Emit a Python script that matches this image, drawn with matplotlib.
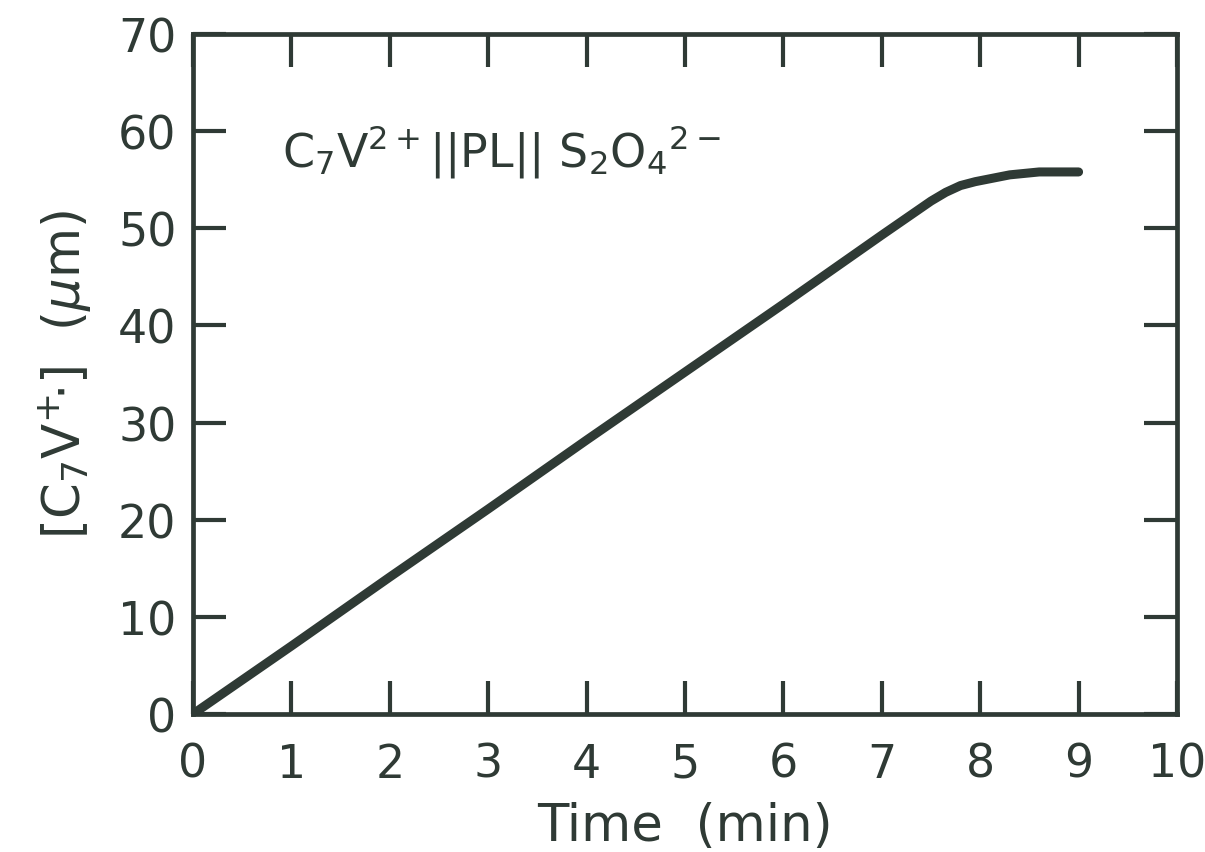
import matplotlib.pyplot as plt

# C7V+ concentration vs time
time_min = [0, 1, 2, 3, 4, 5, 6, 7, 7.5, 7.65, 7.8, 7.95, 8.1, 8.3, 8.6, 9.0]
conc_um = [0, 7.0, 14.1, 21.1, 28.2, 35.2, 42.2, 49.3, 52.8, 53.7, 54.4, 54.8, 55.1, 55.5, 55.8, 55.8]

x_ticks = list(range(0, 11))
y_ticks = list(range(0, 71, 10))

ink = '#2f3a35'
plt.rcParams['font.family'] = ['DejaVu Sans']
plt.rcParams['mathtext.fontset'] = 'dejavusans'

fig = plt.figure(figsize=(12.05, 8.53), dpi=100)
ax = fig.add_axes([193 / 1205, 1 - 715 / 853, (1177 - 193) / 1205, (715 - 35) / 853])

ax.plot(time_min, conc_um, color=ink, lw=6.5, solid_capstyle='round', solid_joinstyle='round')

ax.set_xlim(0, 10)
ax.set_ylim(0, 70)
ax.set_xticks(x_ticks)
ax.set_yticks(y_ticks)

for s in ax.spines.values():
    s.set_linewidth(3.4)
    s.set_color(ink)

ax.tick_params(direction='in', length=24, width=3, color=ink, labelcolor=ink,
               labelsize=33, top=True, right=True)
ax.tick_params(axis='x', pad=20)
ax.tick_params(axis='y', pad=12)

ax.set_xlabel('Time  (min)', fontsize=37, color=ink, labelpad=10)
ax.set_ylabel(r'[C$_7$V$^{+}\!$$\cdot$]  ($\mu$m)', fontsize=37, color=ink, labelpad=18)

ax.text(0.9, 56.5, r'C$_7$V$^{2+}$||PL|| S$_2$O$_4$$^{2-}$', fontsize=33, color=ink)

plt.savefig('out.png', dpi=100)
